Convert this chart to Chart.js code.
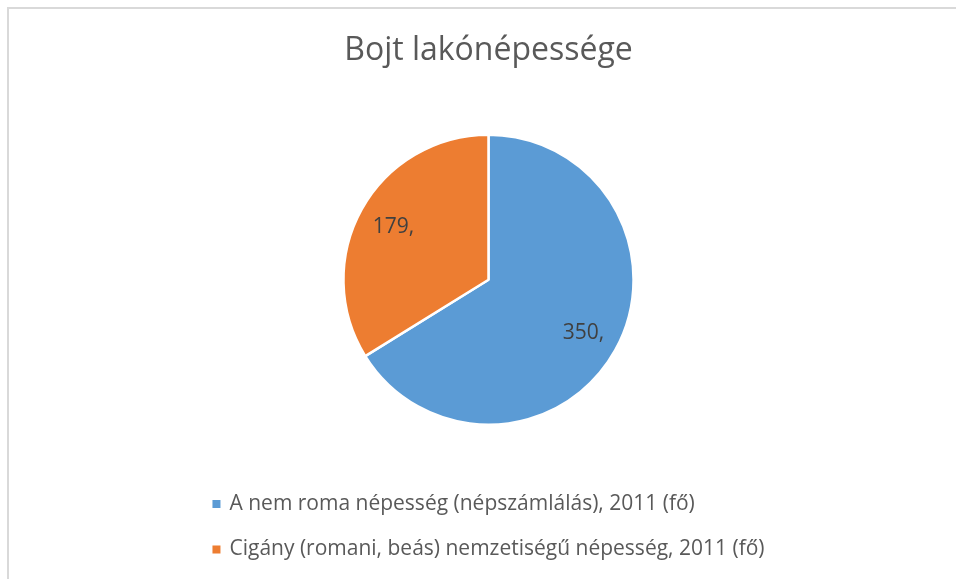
<!DOCTYPE html>
<html>
<head>
<meta charset="utf-8">
<script src="https://cdn.jsdelivr.net/npm/chart.js@4"></script>
<style>
  html, body { margin: 0; padding: 0; background: #fff; overflow: hidden; }
  #wrap { position: relative; width: 956px; height: 579px; }
  #frame { position: absolute; left: 7px; top: 7px; width: 1000px; height: 640px; border: 2px solid #d9d9d9; }
  canvas { position: absolute; left: 0; top: 0; }
</style>
</head>
<body>
<div id="wrap">
  <div id="frame"></div>
  <canvas id="myChart" width="956" height="579"></canvas>
</div>
<script>
const title = "Bojt lakónépessége";
const labels = [
  "A nem roma népesség (népszámlálás), 2011 (fő)",
  "Cigány (romani, beás) nemzetiségű népesség, 2011 (fő)"
];
const values = [350, 179];
const colors = ["#5B9BD5", "#ED7D31"];

const fontFamily = "'Open Sans', sans-serif";

// value labels inside the slices ("350," like the original)
const sliceLabels = {
  id: "sliceLabels",
  afterDatasetsDraw(chart) {
    const ctx = chart.ctx;
    const meta = chart.getDatasetMeta(0);
    ctx.save();
    ctx.font = "21px " + fontFamily;
    ctx.fillStyle = "#404040";
    ctx.textAlign = "center";
    ctx.textBaseline = "middle";
    meta.data.forEach((arc, i) => {
      const p = arc.getProps(["x", "y", "startAngle", "endAngle", "outerRadius"], true);
      const mid = (p.startAngle + p.endAngle) / 2;
      const r = p.outerRadius * 0.75;
      ctx.fillText(values[i] + ",", p.x + Math.cos(mid) * r, p.y + Math.sin(mid) * r);
    });
    ctx.restore();
  }
};

// legend as a left aligned list under the pie, like excel does it
const listLegend = {
  id: "listLegend",
  afterDraw(chart) {
    const ctx = chart.ctx;
    const area = chart.chartArea;
    const cx = (area.left + area.right) / 2;
    ctx.save();
    ctx.font = "21px " + fontFamily;
    const widest = Math.max(...labels.map(l => ctx.measureText(l).width)) + 17;
    const x0 = cx - widest / 2;
    ctx.textBaseline = "middle";
    labels.forEach((l, i) => {
      const y = area.bottom + 78 + i * 45.5;
      ctx.fillStyle = colors[i];
      ctx.fillRect(x0, y - 4, 8, 8);
      ctx.fillStyle = "#595959";
      ctx.fillText(l, x0 + 17, y);
    });
    ctx.restore();
  }
};

const ctx = document.getElementById("myChart");

new Chart(ctx, {
  type: "pie",
  data: {
    labels: labels,
    datasets: [{
      data: values,
      backgroundColor: colors,
      borderColor: "#ffffff",
      borderWidth: 2.5
    }]
  },
  options: {
    responsive: false,
    animation: false,
    devicePixelRatio: 1,
    layout: {
      padding: { top: 0, left: 21, right: 0, bottom: 153 }
    },
    plugins: {
      title: {
        display: true,
        text: title,
        color: "#595959",
        font: { family: fontFamily, size: 32, weight: "normal", lineHeight: 1.2 },
        padding: { top: 32, bottom: 63 }
      },
      legend: { display: false },
      tooltip: { enabled: false }
    }
  },
  plugins: [sliceLabels, listLegend]
});
</script>
</body>
</html>
